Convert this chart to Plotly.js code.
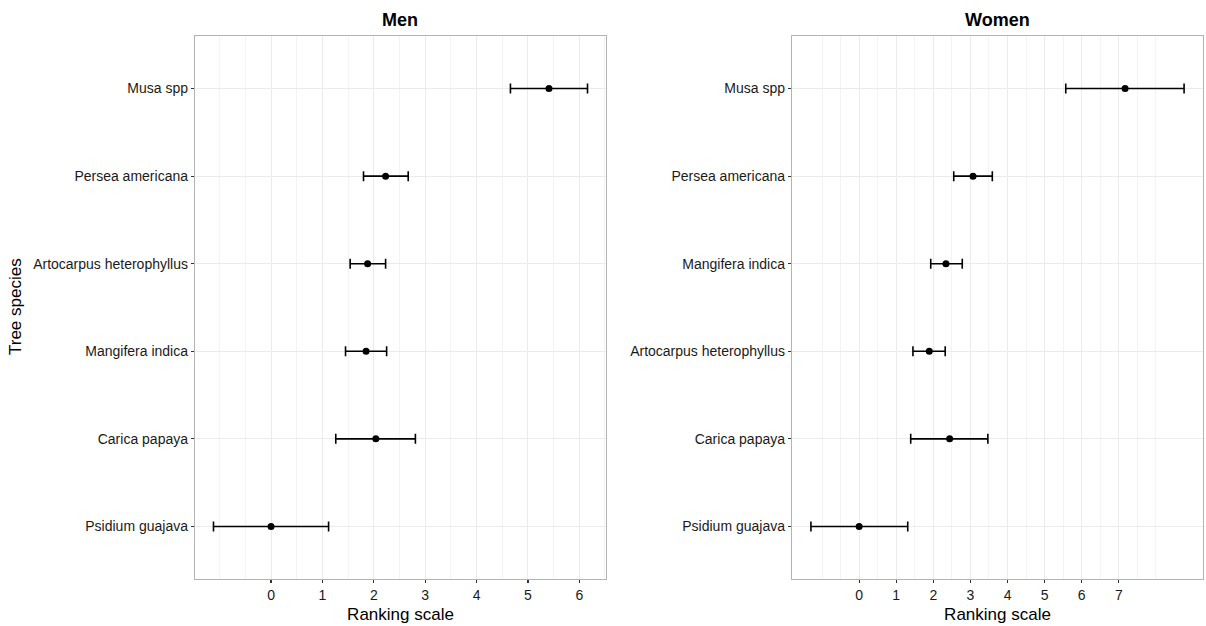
<!DOCTYPE html>
<html>
<head>
<meta charset="utf-8">
<script src="https://cdn.plot.ly/plotly-3.0.1.min.js"></script>
<style>html,body{margin:0;padding:0;background:#fff;}#chart{width:1206px;height:626px;}</style>
</head>
<body>
<div id="chart"></div>
<script>
// Men panel (bottom to top)
const menSpecies = ["Psidium guajava", "Carica papaya", "Mangifera indica", "Artocarpus heterophyllus", "Persea americana", "Musa spp"];
const menMean = [0, 2.04, 1.85, 1.88, 2.23, 5.41];
const menLow = [-1.12, 1.26, 1.45, 1.54, 1.80, 4.66];
const menHigh = [1.12, 2.81, 2.25, 2.23, 2.67, 6.16];

// Women panel (bottom to top)
const womenSpecies = ["Psidium guajava", "Carica papaya", "Artocarpus heterophyllus", "Mangifera indica", "Persea americana", "Musa spp"];
const womenMean = [0, 2.44, 1.89, 2.34, 3.07, 7.17];
const womenLow = [-1.30, 1.39, 1.45, 1.93, 2.55, 5.57];
const womenHigh = [1.31, 3.47, 2.32, 2.78, 3.59, 8.76];

const menTicks = [0, 1, 2, 3, 4, 5, 6];
const womenTicks = [0, 1, 2, 3, 4, 5, 6, 7];
const menMinor = [-1, -0.5, 0.5, 1.5, 2.5, 3.5, 4.5, 5.5, 6.5];
const womenMinor = [-1, -0.5, 0.5, 1.5, 2.5, 3.5, 4.5, 5.5, 6.5, 7.5, 8];

function trace(species, mean, low, high, xa, ya) {
  return {
    type: 'scatter', mode: 'markers',
    x: mean, y: species, xaxis: xa, yaxis: ya,
    marker: {color: '#000', size: 7},
    error_x: {
      type: 'data', symmetric: false,
      array: high.map((h, i) => h - mean[i]),
      arrayminus: low.map((l, i) => mean[i] - l),
      color: '#000', thickness: 1.6, width: 5
    },
    showlegend: false, hoverinfo: 'x+y'
  };
}

const FAM = 'Liberation Sans, Arial, sans-serif';
const gridC = '#ebebeb';
const frameC = '#b3b3b3';
const tickFont = {family: FAM, size: 14, color: '#1a1a1a'};
const titleFont = {family: FAM, size: 17, color: '#000'};

function xaxisDef(domain, range, ticks, minor) {
  return {
    domain: domain, range: range, tickmode: 'array', tickvals: ticks,
    ticktext: ticks.map(String),
    showgrid: true, gridcolor: gridC, gridwidth: 1,
    minor: {tickmode: 'array', tickvals: minor, showgrid: true, gridcolor: '#f3f3f3', gridwidth: 1, ticks: ''},
    zeroline: false, showline: true, mirror: true, linecolor: frameC, linewidth: 1.2,
    ticks: 'outside', ticklen: 3, tickcolor: '#333', tickwidth: 1.2,
    tickfont: tickFont, automargin: false,
    title: {text: 'Ranking scale', font: titleFont, standoff: 6}
  };
}
function yaxisDef(anchor, cats) {
  return {
    domain: [47/626, 590/626], anchor: anchor, type: 'category',
    categoryorder: 'array', categoryarray: cats,
    range: [-0.6, 5.6],
    showgrid: true, gridcolor: gridC, gridwidth: 1,
    zeroline: false, showline: true, mirror: true, linecolor: frameC, linewidth: 1.2,
    ticks: 'outside', ticklen: 3, tickcolor: '#333', tickwidth: 1.2,
    tickfont: tickFont, automargin: false
  };
}

const data = [
  trace(menSpecies, menMean, menLow, menHigh, 'x', 'y'),
  trace(womenSpecies, womenMean, womenLow, womenHigh, 'x2', 'y2')
];

const layout = {
  width: 1206, height: 626,
  margin: {l: 0, r: 0, t: 0, b: 0},
  paper_bgcolor: '#fff', plot_bgcolor: '#fff',
  xaxis: Object.assign(xaxisDef([195/1206, 606/1206], [-1.48, 6.52], menTicks, menMinor), {anchor: 'y'}),
  yaxis: yaxisDef('x', menSpecies),
  xaxis2: Object.assign(xaxisDef([792/1206, 1203/1206], [-1.81, 9.27], womenTicks, womenMinor), {anchor: 'y2'}),
  yaxis2: yaxisDef('x2', womenSpecies),
  annotations: [
    {text: '<b>Men</b>', x: 400/1206, y: 1 - 20/626, xref: 'paper', yref: 'paper', showarrow: false,
     font: {family: FAM, size: 18, color: '#000'}, xanchor: 'center', yanchor: 'middle'},
    {text: '<b>Women</b>', x: 997/1206, y: 1 - 20/626, xref: 'paper', yref: 'paper', showarrow: false,
     font: {family: FAM, size: 18, color: '#000'}, xanchor: 'center', yanchor: 'middle'},
    {text: 'Tree species', x: 15/1206, y: 1 - 307/626, xref: 'paper', yref: 'paper', showarrow: false,
     textangle: -90, font: titleFont, xanchor: 'center', yanchor: 'middle'}
  ]
};

Plotly.newPlot('chart', data, layout, {displayModeBar: false, staticPlot: true});
</script>
</body>
</html>
